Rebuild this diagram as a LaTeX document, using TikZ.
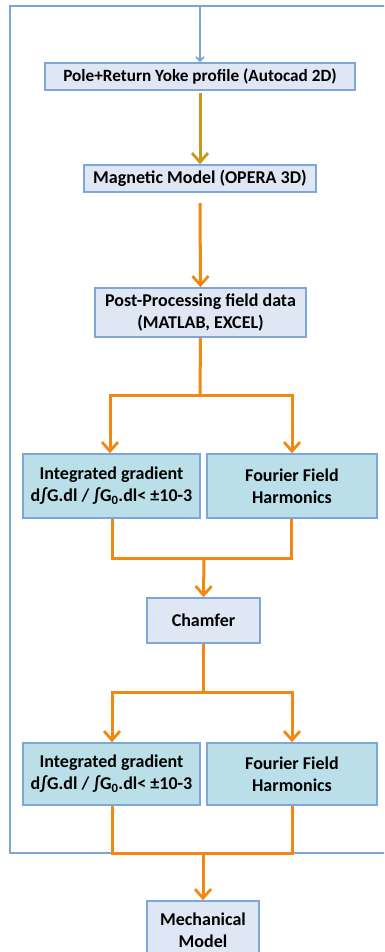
\documentclass[tikz,border=0pt]{standalone}
\usepackage{fontspec}
\setmainfont{Carlito}
\usetikzlibrary{arrows.meta}
\definecolor{loopblue}{RGB}{122,166,214}
\definecolor{boxline}{RGB}{126,166,216}
\definecolor{paleblue}{RGB}{222,231,243}
\definecolor{palecyan}{RGB}{186,223,233}
\definecolor{flowor}{RGB}{240,136,18}
\definecolor{flowgold}{RGB}{202,150,28}
\tikzset{
  boxbase/.style={draw=boxline, line width=1.6pt, font=\bfseries\fontsize{18}{22}\selectfont, align=center, inner sep=0pt, text=black},
  palebox/.style={boxbase, fill=paleblue},
  cyanbox/.style={boxbase, fill=palecyan},
  orline/.style={draw=flowor, line width=3pt},
  orarrow/.style={orline, -{Straight Barb[length=9pt,width=16pt,line width=2.8pt]}},
  goldarrow/.style={draw=flowgold, line width=3pt, -{Straight Barb[length=9pt,width=16pt,line width=2.8pt]}},
  blueline/.style={draw=loopblue, line width=2pt},
  bluearrow/.style={blueline, -{Straight Barb[length=4pt,width=8pt,line width=1.8pt]}}
}
\begin{document}
\begin{tikzpicture}[x=1pt,y=-1pt]
\useasboundingbox (0,0) rectangle (384,952);
\clip (0,0) rectangle (384,952);
\fill[white] (0,0) rectangle (384,952);

% nodes
\node[palebox, minimum width=310pt, minimum height=27pt, font=\bfseries\fontsize{17.2}{22}\selectfont] (b1) at (200,76.5) {Pole+Return Yoke profile (Autocad 2D)};
\node[palebox, minimum width=232pt, minimum height=27pt] (b2) at (200,178.5) {Magnetic Model (OPERA 3D)};
\node[palebox, minimum width=211pt, minimum height=49pt] (b3) at (200.5,312.5) {Post-Processing field data\\(MATLAB, EXCEL)};
\node[cyanbox, minimum width=177pt, minimum height=64pt] (g1) at (111.5,486) {Integrated gradient\\d∫G.dl / ∫G\textsubscript{0}.dl< ±10-3};
\node[cyanbox, minimum width=170pt, minimum height=64pt] (f1) at (292,486) {Fourier Field\\Harmonics};
\node[palebox, minimum width=113pt, minimum height=45pt] (ch) at (203.5,620.5) {Chamfer};
\node[cyanbox, minimum width=177pt, minimum height=62pt] (g2) at (111.5,774) {Integrated gradient\\d∫G.dl / ∫G\textsubscript{0}.dl< ±10-3};
\node[cyanbox, minimum width=170pt, minimum height=62pt] (f2) at (292,774) {Fourier Field\\Harmonics};
\node[palebox, minimum width=112pt, minimum height=58pt] (mm) at (203,930) {Mechanical\\Model};

% coordinates
\coordinate (tl) at (10,6);
\coordinate (tr) at (392,6);
\coordinate (bl) at (10,853);
\coordinate (br) at (392,853);
\coordinate (tm) at (200,6);
\coordinate (s1) at (200,395);
\coordinate (s1l) at (110,395);
\coordinate (s1r) at (292,395);
\coordinate (m1) at (204,558);
\coordinate (m1l) at (112,558);
\coordinate (m1r) at (291,558);
\coordinate (s2) at (203.5,692);
\coordinate (s2l) at (112,692);
\coordinate (s2r) at (292,692);
\coordinate (m2) at (203,853);
\coordinate (m2l) at (112,853);
\coordinate (m2r) at (292,853);
\coordinate (o2) at (200,203);

% blue loop
\draw[blueline] (br) -- (bl) -- (tl) -- (tr);
\draw[bluearrow] (tm) -- (b1.north);

% flow
\draw[goldarrow, shorten <=2pt] (b1.south) -- (b2.north);
\draw[orarrow] (o2) -- (b3.north);
\draw[orline] (b3.south) -- (s1);
\draw[orarrow] (s1) -- (s1l) -- (g1.north -| s1l);
\draw[orarrow] (s1) -- (s1r) -- (f1.north -| s1r);
\draw[orline] (g1.south -| m1l) -- (m1l) -- (m1r) -- (f1.south -| m1r);
\draw[orarrow] (m1) -- (ch.north);
\draw[orline] (ch.south) -- (s2);
\draw[orarrow] (s2) -- (s2l) -- (g2.north -| s2l);
\draw[orarrow] (s2) -- (s2r) -- (f2.north -| s2r);
\draw[orline] (g2.south -| m2l) -- (m2l) -- (m2r) -- (f2.south -| m2r);
\draw[orarrow] (m2) -- (mm.north);
\end{tikzpicture}
\end{document}
